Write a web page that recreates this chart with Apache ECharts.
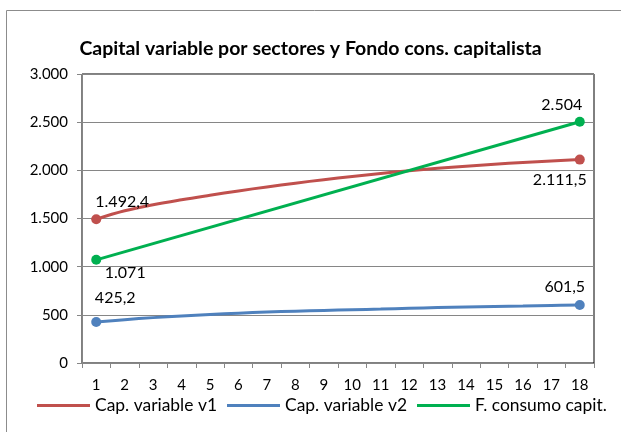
<!DOCTYPE html>
<html>
<head>
<meta charset="utf-8">
<script src="https://cdn.jsdelivr.net/npm/echarts@6/dist/echarts.min.js"></script>
<style>html,body{margin:0;padding:0;background:#fff}#c{width:621px;height:432px}</style>
</head>
<body>
<div id="c"></div>
<script>
const titleText = 'Capital variable por sectores y Fondo cons. capitalista';
const categories = ['1','2','3','4','5','6','7','8','9','10','11','12','13','14','15','16','17','18'];
const seriesNames = ['Cap. variable v1', 'Cap. variable v2', 'F. consumo capit.'];
const capV1 = [1492.4, 1580, 1642, 1694, 1741, 1786, 1828, 1867, 1903, 1936, 1967, 1996, 2021, 2043, 2063, 2081, 2097, 2111.5];
const capV2 = [425.2, 450, 471, 489, 504, 517, 529, 538, 546, 553, 560, 568, 575, 581, 587, 592, 597, 601.5];
const fondo = [1071, null, null, null, null, null, null, null, null, null, null, null, null, null, null, null, null, 2504];
const yMin = 0, yMax = 3000, yStep = 500;

const FONT = 'Lato';
function textWidth(t, size, weight) {
  const c = document.createElement('canvas').getContext('2d');
  c.font = (weight || 'normal') + ' ' + size + 'px ' + FONT;
  return c.measureText(t).width;
}
const legendFont = 15 * 132 / textWidth('F. consumo capit.', 15);

function fmt(v) {
  const neg = v < 0; v = Math.abs(v);
  const isInt = Math.abs(v - Math.round(v)) < 1e-9;
  const s = isInt ? String(Math.round(v)) : v.toFixed(1);
  const parts = s.split('.');
  const intPart = parts[0].replace(/\B(?=(\d{3})+(?!\d))/g, '.');
  return (neg ? '-' : '') + intPart + (parts[1] ? ',' + parts[1] : '');
}
function build(arr, startLbl, endLbl) {
  const last = arr.length - 1;
  return arr.map((v, i) => {
    if (i === 0) return { value: v, label: Object.assign({ show: true }, startLbl) };
    if (i === last) return { value: v, label: Object.assign({ show: true }, endLbl) };
    return v;
  });
}
const endSize = (val, p) => (p.dataIndex === 0 || p.dataIndex === categories.length - 1) ? 10 : 0;
const lblStyle = { color: '#000', fontFamily: FONT, fontSize: 16, formatter: p => fmt(p.value) };
const legendBase = { bottom: 13, itemWidth: 53, itemHeight: 3, icon: 'rect', textStyle: { fontFamily: FONT, fontSize: legendFont, color: '#000' } };

const chart = echarts.init(document.getElementById('c'), null, { renderer: 'canvas' });
chart.setOption({
  animation: false,
  textStyle: { fontFamily: FONT },
  graphic: [{ type: 'rect', shape: { x: 6.5, y: 10.5, width: 700, height: 500 }, style: { fill: 'none', stroke: '#8c8c8c', lineWidth: 1 }, silent: true }],
  title: { text: titleText, left: 'center', top: 34, textStyle: { fontFamily: FONT, fontSize: 19.5, fontWeight: 'bold', color: '#000' } },
  grid: { left: 82, right: 27, top: 74, bottom: 69, show: true, borderColor: '#000', borderWidth: 1, containLabel: false },
  legend: [
    Object.assign({ left: 32, data: [seriesNames[0]] }, legendBase),
    Object.assign({ left: 222, data: [seriesNames[1]] }, legendBase),
    Object.assign({ left: 412, data: [seriesNames[2]] }, legendBase)
  ],
  xAxis: {
    type: 'category', data: categories, boundaryGap: true,
    axisLine: { lineStyle: { color: '#868686' } },
    axisTick: { show: true, alignWithLabel: false, length: 5, lineStyle: { color: '#868686' } },
    axisLabel: { color: '#000', fontFamily: FONT, fontSize: 15, margin: 15 }
  },
  yAxis: {
    type: 'value', min: yMin, max: yMax, interval: yStep,
    axisLine: { show: true, lineStyle: { color: '#868686' } },
    axisTick: { show: true, length: 5, lineStyle: { color: '#868686' } },
    splitLine: { lineStyle: { color: '#868686' } },
    axisLabel: { color: '#000', fontFamily: FONT, fontSize: 15, margin: 14, formatter: v => fmt(v) }
  },
  series: [
    {
      name: seriesNames[0], type: 'line', smooth: 0.4, symbol: 'circle', symbolSize: endSize, showSymbol: true,
      itemStyle: { color: '#C0504D' }, lineStyle: { color: '#C0504D', width: 3 },
      label: lblStyle,
      data: build(capV1, { position: 'top', distance: 4, offset: [26, 0] }, { position: 'bottom', distance: 7, offset: [-20, 0] })
    },
    {
      name: seriesNames[1], type: 'line', smooth: 0.4, symbol: 'circle', symbolSize: endSize, showSymbol: true,
      itemStyle: { color: '#4F81BD' }, lineStyle: { color: '#4F81BD', width: 3 },
      label: lblStyle,
      data: build(capV2, { position: 'top', distance: 11, offset: [19, 0] }, { position: 'top', distance: 5, offset: [-15, 0] })
    },
    {
      name: seriesNames[2], type: 'line', smooth: false, connectNulls: true, symbol: 'circle', symbolSize: endSize, showSymbol: true,
      itemStyle: { color: '#00B050' }, lineStyle: { color: '#00B050', width: 3 },
      label: lblStyle,
      data: build(fondo, { position: 'bottom', distance: 0, offset: [29, 0] }, { position: 'top', distance: 4, offset: [-18, 0] })
    }
  ]
});
</script>
</body>
</html>
